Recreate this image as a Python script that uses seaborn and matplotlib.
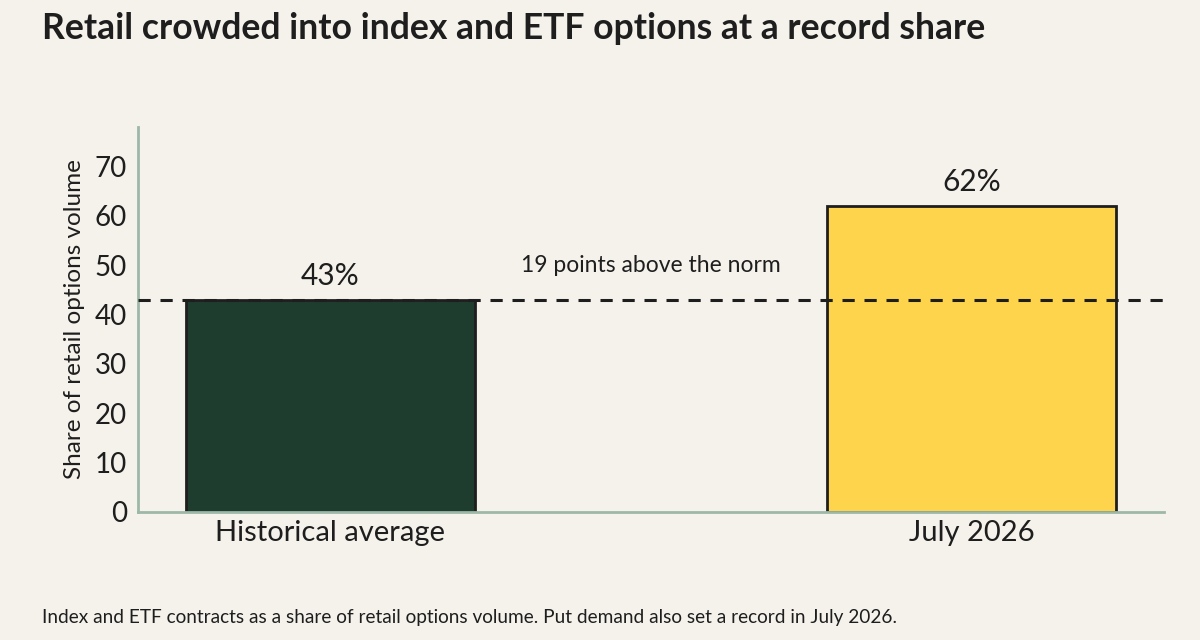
import pandas as pd
import matplotlib.pyplot as plt
import seaborn as sns

categories = ['Historical average', 'July 2026']
shares = [43, 62]
bar_colors = ['#1F3D2F', '#FDD44C']
norm_level = 43
yticks = [0, 10, 20, 30, 40, 50, 60, 70]

title = 'Retail crowded into index and ETF options at a record share'
note = ('Index and ETF contracts as a share of retail options volume. '
        'Put demand also set a record in July 2026.')

df = pd.DataFrame({'period': categories, 'share': shares})

bg = '#F5F2EB'
ink = '#1E1E1E'
sns.set_theme(style='white')
plt.rcParams['font.family'] = ['Lato', 'DejaVu Sans']

fig = plt.figure(figsize=(12, 6.4), dpi=100, facecolor=bg)
ax = fig.add_axes([0.115, 0.2, 0.855, 0.6016])
ax.set_facecolor(bg)

sns.barplot(data=df, x='period', y='share', hue='period', palette=bar_colors,
            saturation=1, width=0.45, edgecolor=ink, linewidth=2,
            legend=False, ax=ax)

# dashed reference line at the historical norm
ax.axhline(norm_level, color=ink, linestyle=(0, (4, 3.2)), linewidth=2.2, zorder=5)

for i, v in enumerate(shares):
    ax.text(i, v + 2, f'{v}%', ha='center', va='bottom', fontsize=21.5, color=ink)

ax.text(0.5, 50, f'{shares[1] - norm_level} points above the norm',
        ha='center', va='center', fontsize=16.5, color=ink)

ax.set_xlim(-0.3, 1.3)
ax.set_ylim(0, 78)
ax.set_yticks(yticks)
ax.tick_params(axis='y', length=0, labelsize=20, colors=ink, pad=8)
ax.tick_params(axis='x', length=0, labelsize=21, colors=ink, pad=6)
ax.set_xlabel('')
ax.set_ylabel('Share of retail options volume', fontsize=17.5, color=ink, labelpad=7)

for side in ['top', 'right']:
    ax.spines[side].set_visible(False)
for side in ['left', 'bottom']:
    ax.spines[side].set_color('#9DB8A8')
    ax.spines[side].set_linewidth(2)

fig.text(0.035, 0.956, title, fontsize=25.6, fontweight='bold', color=ink, va='center')
fig.text(0.035, 0.035, note, fontsize=13.7, color=ink, va='center')

fig.savefig('out.png', dpi=100, facecolor=bg)
